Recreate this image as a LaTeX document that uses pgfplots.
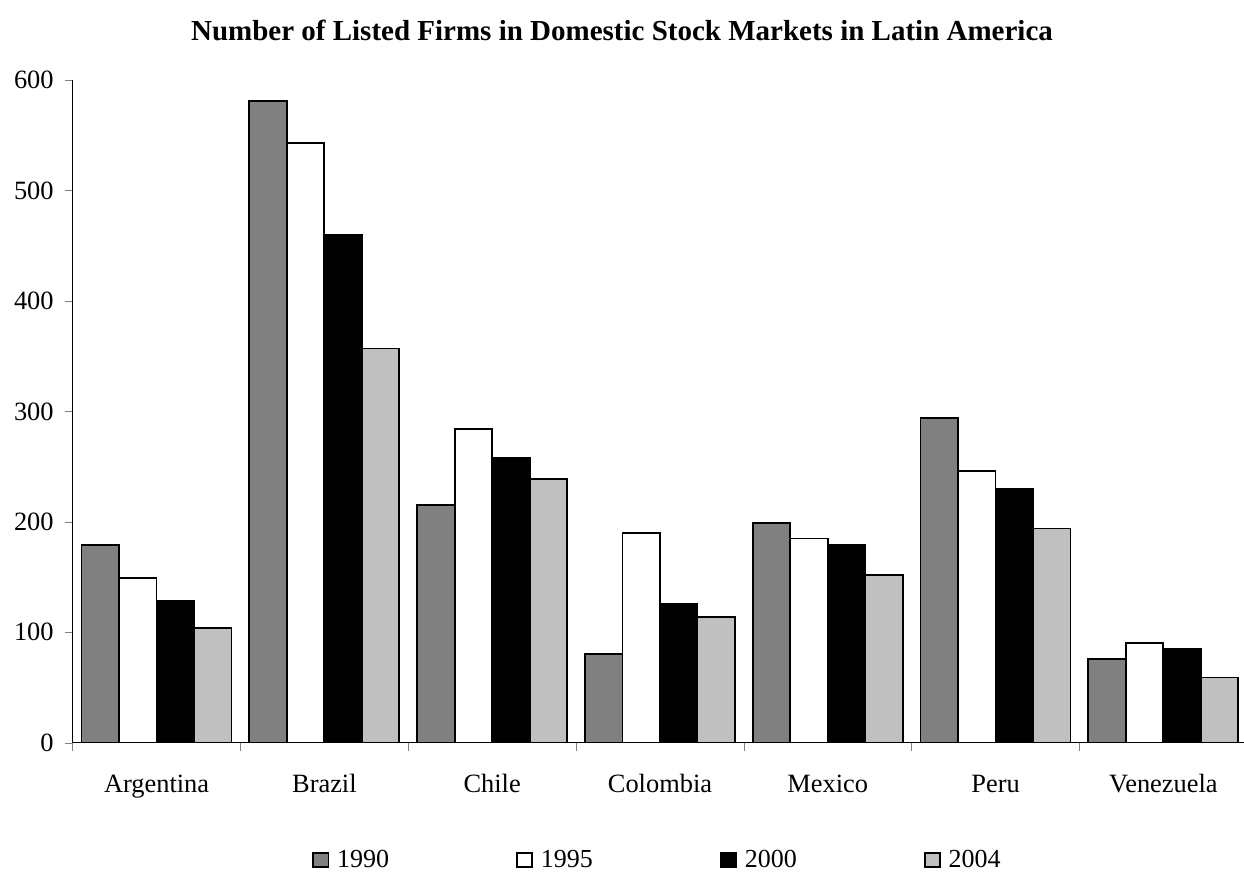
\documentclass[border=0pt]{standalone}
\usepackage{pgfplots}
\pgfplotsset{compat=1.18}
\usepackage{fontspec}
\setmainfont{Liberation Serif}
\definecolor{c1990}{HTML}{808080}
\definecolor{c2004}{HTML}{C0C0C0}
\begin{document}
\begin{tikzpicture}
\begin{axis}[
    at={(0,0)}, anchor=south west,
    width=587.3pt, height=331.3pt, scale only axis,
    ybar=0pt, bar width=18.75pt,
    xmin=-0.5, xmax=6.5,
    ymin=0, ymax=600,
    ytick={0,100,...,600},
    axis x line=bottom, axis y line=left,
    axis line style={-, line width=0.6pt},
    tick align=outside,
    major tick length=4pt,
    xtick={-0.5,0.5,...,6.5},
    xticklabels={},
    extra x ticks={0,1,2,3,4,5,6},
    extra x tick labels={Argentina,Brazil,Chile,Colombia,Mexico,Peru,Venezuela},
    extra x tick style={major tick length=0pt, tick label style={anchor=base, yshift=-25pt}},
    tick label style={font=\fontsize{13.2pt}{15pt}\selectfont},
    /pgf/number format/assume math mode=true,
    yticklabel style={xshift=-2pt},
    legend columns=4,
    legend style={at={(0.4987,-0.177)}, anchor=center, draw=none,
        font=\fontsize{13pt}{15pt}\selectfont,
        /tikz/every even column/.append style={column sep=61.5pt}},
    legend image code/.code={\draw[#1, line width=0.9pt] (0pt,-3.4pt) rectangle (7.6pt,3.4pt);
        \path (9.5pt,0pt);},
    every axis plot/.append style={draw=black, line width=0.9pt},
]
\addplot[fill=c1990] coordinates {(0,179) (1,581) (2,215) (3,80) (4,199) (5,294) (6,76)};
\addplot[fill=white] coordinates {(0,149) (1,543) (2,284) (3,190) (4,185) (5,246) (6,90)};
\addplot[fill=black] coordinates {(0,128) (1,460) (2,258) (3,126) (4,179) (5,230) (6,85)};
\addplot[fill=c2004] coordinates {(0,104) (1,357) (2,239) (3,114) (4,152) (5,194) (6,59)};
\legend{1990,1995,2000,2004}
\end{axis}
\node[font=\bfseries\fontsize{14.5pt}{17pt}\selectfont] at (274.65pt,356.35pt) {Number of Listed Firms in Domestic Stock Markets in Latin America};
\pgfresetboundingbox
\path (-36.35pt,-65.65pt) rectangle (585.65pt,371.35pt);
\end{tikzpicture}
\end{document}
